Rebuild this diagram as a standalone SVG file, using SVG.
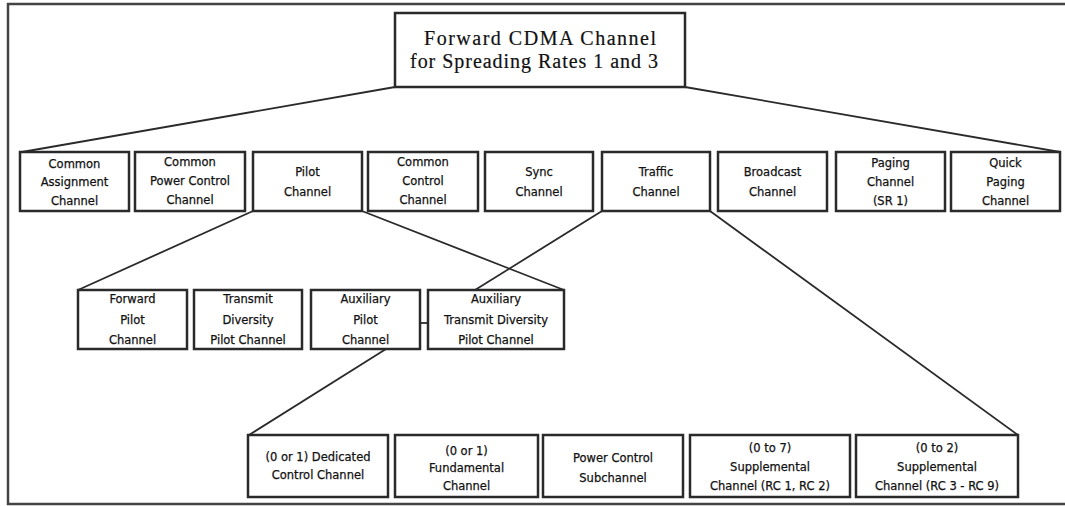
<svg xmlns="http://www.w3.org/2000/svg" width="1065" height="506" viewBox="0 0 1065 506">
  <style>
    .frame { fill: none; stroke: #444; stroke-width: 2.5; }
    .box { fill: #fff; stroke: #2a2a2a; stroke-width: 2.5; }
    .link { fill: none; stroke: #2a2a2a; stroke-width: 1.8; }
    .title { font-family: "Liberation Serif", serif; font-size: 20px; fill: #111; text-anchor: middle; stroke: #111; stroke-width: 0.2; }
    .lbl { font-family: "DejaVu Sans", sans-serif; font-size: 11.5px; fill: #111; text-anchor: middle; stroke: #111; stroke-width: 0.25; }
  </style>
  <rect width="1065" height="506" fill="#fff"/>
  <!-- outer frame (open on the right) -->
  <path class="frame" d="M1065 4 H8 V504 H1065"/>

  <g id="connectors">
    <line class="link" x1="395" y1="87" x2="22" y2="152"/>
    <line class="link" x1="685" y1="87" x2="1060" y2="152"/>
    <line class="link" x1="253" y1="211" x2="78" y2="290"/>
    <line class="link" x1="362" y1="211" x2="564" y2="290"/>
    <line class="link" x1="602" y1="211" x2="475" y2="290"/>
    <line class="link" x1="710" y1="211" x2="1018" y2="435"/>
    <line class="link" x1="386" y1="349" x2="249" y2="435"/>
    <line class="link" x1="420" y1="323" x2="428" y2="323"/>
  </g>

  <g id="root">
    <rect class="box" x="395" y="13" width="290" height="74"/>
    <text class="title" x="540" y="45" textLength="232" lengthAdjust="spacing">Forward CDMA Channel</text>
    <text class="title" x="534" y="68" textLength="248" lengthAdjust="spacing">for Spreading Rates 1 and 3</text>
  </g>

  <!-- first level -->
  <g id="common-assignment">
    <rect class="box" x="20" y="152" width="109" height="59"/>
    <text class="lbl" x="74.5" y="168">Common</text>
    <text class="lbl" x="74.5" y="186">Assignment</text>
    <text class="lbl" x="74.5" y="205">Channel</text>
  </g>
  <g id="common-power-control">
    <rect class="box" x="135" y="152" width="110" height="59"/>
    <text class="lbl" x="190" y="166">Common</text>
    <text class="lbl" x="190" y="185">Power Control</text>
    <text class="lbl" x="190" y="204">Channel</text>
  </g>
  <g id="pilot">
    <rect class="box" x="253" y="152" width="109" height="59"/>
    <text class="lbl" x="307.5" y="176">Pilot</text>
    <text class="lbl" x="307.5" y="196">Channel</text>
  </g>
  <g id="common-control">
    <rect class="box" x="368" y="152" width="110" height="59"/>
    <text class="lbl" x="423" y="166">Common</text>
    <text class="lbl" x="423" y="185">Control</text>
    <text class="lbl" x="423" y="204">Channel</text>
  </g>
  <g id="sync">
    <rect class="box" x="485" y="152" width="108" height="59"/>
    <text class="lbl" x="539" y="176">Sync</text>
    <text class="lbl" x="539" y="196">Channel</text>
  </g>
  <g id="traffic">
    <rect class="box" x="602" y="152" width="108" height="59"/>
    <text class="lbl" x="656" y="176">Traffic</text>
    <text class="lbl" x="656" y="196">Channel</text>
  </g>
  <g id="broadcast">
    <rect class="box" x="718" y="152" width="109" height="59"/>
    <text class="lbl" x="772.5" y="176">Broadcast</text>
    <text class="lbl" x="772.5" y="196">Channel</text>
  </g>
  <g id="paging">
    <rect class="box" x="836" y="152" width="109" height="59"/>
    <text class="lbl" x="890.5" y="167">Paging</text>
    <text class="lbl" x="890.5" y="186">Channel</text>
    <text class="lbl" x="890.5" y="205">(SR 1)</text>
  </g>
  <g id="quick-paging">
    <rect class="box" x="951" y="152" width="109" height="59"/>
    <text class="lbl" x="1005.5" y="167">Quick</text>
    <text class="lbl" x="1005.5" y="186">Paging</text>
    <text class="lbl" x="1005.5" y="205">Channel</text>
  </g>

  <!-- pilot channels -->
  <g id="forward-pilot">
    <rect class="box" x="78" y="290" width="109" height="59"/>
    <text class="lbl" x="132.5" y="303">Forward</text>
    <text class="lbl" x="132.5" y="324">Pilot</text>
    <text class="lbl" x="132.5" y="344">Channel</text>
  </g>
  <g id="transmit-diversity-pilot">
    <rect class="box" x="194" y="290" width="108" height="59"/>
    <text class="lbl" x="248" y="303">Transmit</text>
    <text class="lbl" x="248" y="324">Diversity</text>
    <text class="lbl" x="248" y="344">Pilot Channel</text>
  </g>
  <g id="auxiliary-pilot">
    <rect class="box" x="311" y="290" width="109" height="59"/>
    <text class="lbl" x="365.5" y="303">Auxiliary</text>
    <text class="lbl" x="365.5" y="324">Pilot</text>
    <text class="lbl" x="365.5" y="344">Channel</text>
  </g>
  <g id="auxiliary-transmit-diversity-pilot">
    <rect class="box" x="428" y="290" width="136" height="59"/>
    <text class="lbl" x="496" y="303">Auxiliary</text>
    <text class="lbl" x="496" y="324">Transmit Diversity</text>
    <text class="lbl" x="496" y="344">Pilot Channel</text>
  </g>

  <!-- traffic channels -->
  <g id="dedicated-control">
    <rect class="box" x="248" y="435" width="140" height="62"/>
    <text class="lbl" x="318" y="461">(0 or 1) Dedicated</text>
    <text class="lbl" x="318" y="479">Control Channel</text>
  </g>
  <g id="fundamental">
    <rect class="box" x="395" y="435" width="143" height="62"/>
    <text class="lbl" x="466.5" y="455">(0 or 1)</text>
    <text class="lbl" x="466.5" y="472">Fundamental</text>
    <text class="lbl" x="466.5" y="490">Channel</text>
  </g>
  <g id="power-control-subchannel">
    <rect class="box" x="543" y="435" width="140" height="62"/>
    <text class="lbl" x="613" y="462">Power Control</text>
    <text class="lbl" x="613" y="482">Subchannel</text>
  </g>
  <g id="supplemental-rc1-rc2">
    <rect class="box" x="690" y="435" width="160" height="62"/>
    <text class="lbl" x="770" y="452">(0 to 7)</text>
    <text class="lbl" x="770" y="471">Supplemental</text>
    <text class="lbl" x="770" y="490">Channel (RC 1, RC 2)</text>
  </g>
  <g id="supplemental-rc3-rc9">
    <rect class="box" x="856" y="435" width="162" height="62"/>
    <text class="lbl" x="937" y="452">(0 to 2)</text>
    <text class="lbl" x="937" y="471">Supplemental</text>
    <text class="lbl" x="937" y="490">Channel (RC 3 - RC 9)</text>
  </g>
</svg>
